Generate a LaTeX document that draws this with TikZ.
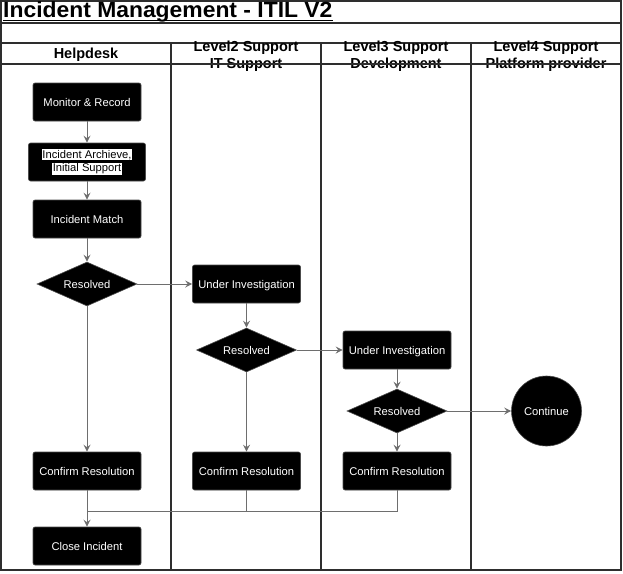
\documentclass[tikz,border=0pt]{standalone}
\usepackage{fontspec}
\setmainfont{Liberation Sans}
\usepackage{graphicx}
\usetikzlibrary{shapes.geometric,arrows.meta}
\definecolor{framec}{HTML}{2E2E2E}
\definecolor{connc}{HTML}{6E6E6E}
\newcommand\hlt[1]{{\setlength\fboxsep{0.6pt}\colorbox{white}{\textcolor{black}{#1}}}}
\begin{document}
\begin{tikzpicture}[x=1pt,y=-1pt,
  procbase/.style={rectangle, rounded corners=2pt, fill=black, draw=black!70, line width=0.6pt,
    text=white, minimum width=108pt, minimum height=38pt, inner sep=0pt,
    font=\fontsize{11.2}{13.7}\selectfont, align=center},
  proc/.style={procbase, text height=8pt, text depth=0pt},
  dec/.style={diamond, fill=black, draw=black!70, line width=0.6pt, text=white,
    minimum width=100pt, minimum height=44pt, inner sep=0pt, shape aspect=2.27,
    text height=8pt, text depth=0pt, font=\fontsize{11.2}{13}\selectfont},
  term/.style={circle, fill=black, draw=black!70, line width=0.6pt, minimum size=70pt,
    inner sep=0pt, text=white, text height=8pt, text depth=0pt, font=\fontsize{11.2}{13}\selectfont},
  flow/.style={draw=connc, line width=1pt, -{Stealth[length=7pt,width=7pt,inset=2.5pt]}},
  plain/.style={draw=connc, line width=1pt},
  lanel/.style={draw=framec, line width=1.6pt},
  hdr/.style={font=\bfseries\fontsize{14.5}{17}\selectfont, align=center, inner sep=0pt}
]
\useasboundingbox (0,0) rectangle (623,573);
\fill[white] (0,0) rectangle (623,573);

% frame and lanes
\draw[lanel] (1,1) rectangle (621,570);
\draw[lanel] (1,23) -- (621,23);
\draw[lanel] (1,43) -- (621,43);
\draw[lanel] (171,43) -- (171,570);
\draw[lanel] (321,43) -- (321,570);
\draw[lanel] (471,43) -- (471,570);

% title
\node[anchor=base west, inner sep=0pt, font=\bfseries\fontsize{22}{24}\selectfont] (title) at (3,17.5)
  {\scalebox{1.04}[1]{Incident Management - ITIL V2}};
\draw[black, line width=1pt] ([yshift=-3.3pt]title.base west) -- ([yshift=-3.3pt]title.base east);

% headers
\node[hdr] (h1) at (86,54.5) {Helpdesk};
\node[hdr] (h2) at (246,56) {Level2 Support\\IT Support};
\node[hdr] (h3) at (396,56) {Level3 Support\\Development};
\node[hdr] (h4) at (546,56) {Level4 Support\\Platform provider};
\draw[lanel] (1,64) -- (621,64);

% nodes
\node[proc] (mr) at (87,102) {Monitor \& Record};
\node[procbase, minimum width=117pt] (ia) at (87,162) {\hlt{Incident Archieve,}\\\hlt{Initial Support}};
\node[proc] (im) at (87,219) {Incident Match};
\node[dec] (r1) at (87,284) {Resolved};
\node[proc] (c1) at (87,471) {Confirm Resolution};
\node[proc] (ci) at (87,546) {Close Incident};
\node[proc] (u2) at (246.5,284) {Under Investigation};
\node[dec] (r2) at (246.5,350) {Resolved};
\node[proc] (c2) at (246.5,471) {Confirm Resolution};
\node[proc] (u3) at (397,350) {Under Investigation};
\node[dec] (r3) at (397,411) {Resolved};
\node[proc] (c3) at (397,471) {Confirm Resolution};
\node[term] (cont) at (546.5,411) {Continue};
\coordinate (m) at (87,511);

% connectors
\draw[flow] (mr) -- (ia);
\draw[flow] (ia) -- (im);
\draw[flow] (im) -- (r1);
\draw[flow] (r1) -- (c1);
\draw[flow] (r1) -- (u2);
\draw[flow] (u2) -- (r2);
\draw[flow] (r2) -- (c2);
\draw[flow] (r2) -- (u3);
\draw[flow] (u3) -- (r3);
\draw[flow] (r3) -- (c3);
\draw[flow] (r3) -- (cont);
\draw[flow] (c1) -- (ci);
\draw[plain] (c2.south) |- (m);
\draw[plain] (c3.south) |- (m);
\end{tikzpicture}
\end{document}
